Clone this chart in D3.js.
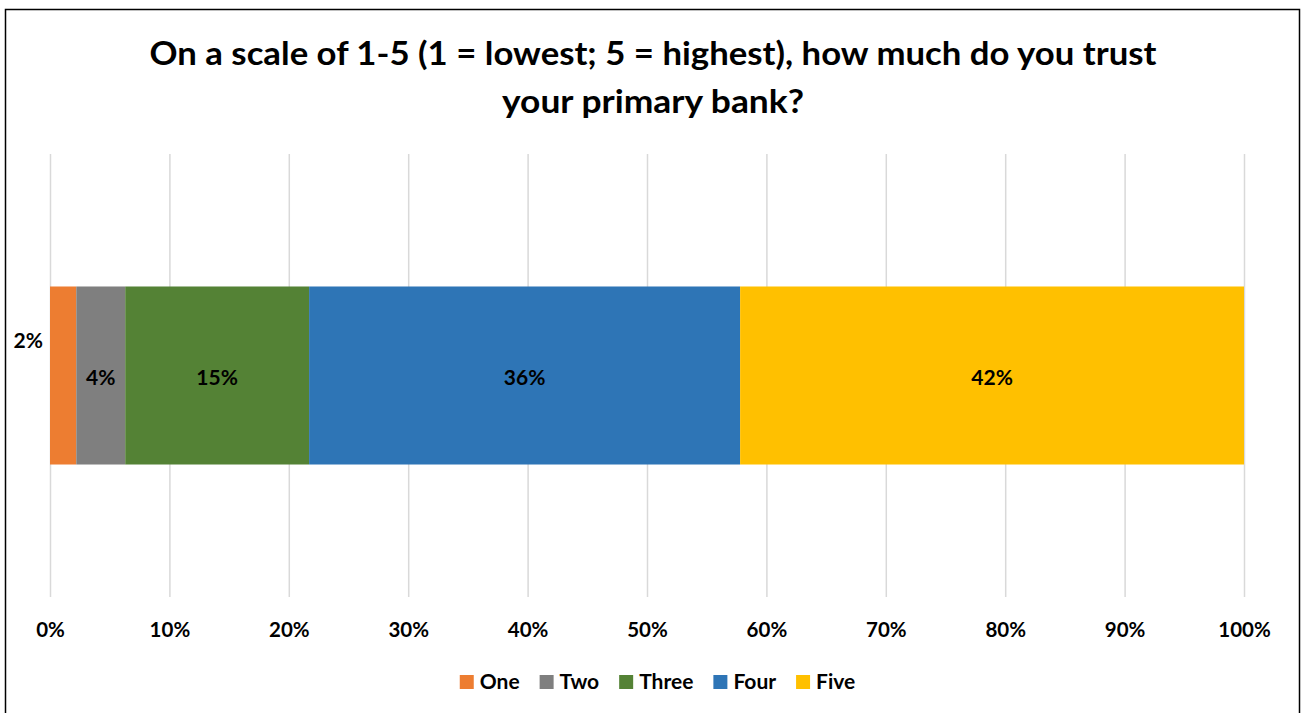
<!DOCTYPE html>
<html>
<head>
<meta charset="utf-8">
<script src="https://cdn.jsdelivr.net/npm/d3@7"></script>
<style>
  html, body { margin: 0; padding: 0; background: #fff; }
  svg { display: block; }
  text { font-family: Lato, "Open Sans", sans-serif; font-weight: 700; fill: #000; }
</style>
</head>
<body>
<svg id="chart" width="1304" height="713"></svg>
<script>
// ---- data ----
const titleLines = ["On a scale of 1-5 (1 = lowest; 5 = highest), how much do you trust", "your primary bank?"];
const categories = [""];
const seriesNames = ["One", "Two", "Three", "Four", "Five"];
const seriesValues = [2.2, 4.1, 15.4, 36.1, 42.2];
const seriesColors = ["#ED7D31", "#7F7F7F", "#548235", "#2E75B6", "#FFC000"];
const tickValues = [0, 10, 20, 30, 40, 50, 60, 70, 80, 90, 100];

// ---- layout ----
const W = 1304, H = 713;
const plot = { left: 50, right: 1244, top: 154, bottom: 597 };
const titleWidths = [1007, 302];
const svg = d3.select("#chart");

svg.append("rect").attr("width", W).attr("height", H).attr("fill", "#fff");
svg.append("rect")
  .attr("x", 5.5).attr("y", 9.5).attr("width", 1294).attr("height", 730)
  .attr("fill", "none").attr("stroke", "#000").attr("stroke-width", 1.5);

// title
titleLines.forEach((t, i) => {
  svg.append("text").attr("text-anchor", "middle").style("font-size", "32px")
    .attr("x", 653).attr("y", 65 + i * 48)
    .attr("textLength", titleWidths[i]).attr("lengthAdjust", "spacingAndGlyphs")
    .text(t);
});

const x = d3.scaleLinear().domain([0, 100]).range([plot.left, plot.right]);
const y = d3.scaleBand().domain(categories).range([plot.top, plot.bottom]).padding(0.4267);

// gridlines + axis
const axis = d3.axisBottom(x).tickValues(tickValues).tickFormat(d => d + "%")
  .tickSize(-(plot.bottom - plot.top)).tickPadding(0);
const gx = svg.append("g").attr("transform", `translate(0,${plot.bottom})`).call(axis);
gx.select(".domain").remove();
gx.selectAll(".tick line").attr("stroke", "#D9D9D9").attr("stroke-width", 1.5);
gx.selectAll(".tick text")
  .attr("y", 33).attr("dy", "0.35em")
  .style("font-size", "20.5px").style("font-family", "Lato, 'Open Sans', sans-serif").style("font-weight", 700)
  .attr("fill", "#000");

// stacked data
let acc = 0;
const segs = seriesNames.map((name, i) => {
  const s = { name, value: seriesValues[i], x0: acc, x1: acc + seriesValues[i], color: seriesColors[i] };
  acc += seriesValues[i];
  return s;
});

const yc = y(categories[0]);
svg.append("g").selectAll("rect").data(segs).join("rect")
  .attr("x", d => x(d.x0)).attr("width", d => x(d.x1) - x(d.x0))
  .attr("y", yc).attr("height", y.bandwidth())
  .attr("fill", d => d.color);

// labels
const fmt = v => Math.round(v) + "%";
const mid = yc + y.bandwidth() / 2;
svg.append("g").selectAll("text").data(segs).join("text")
  .attr("text-anchor", d => d.name === "One" ? "end" : "middle")
  .attr("x", d => d.name === "One" ? x(d.x0) - 7 : x((d.x0 + d.x1) / 2))
  .attr("y", d => d.name === "One" ? mid - 35 : mid + 2)
  .attr("dy", "0.35em")
  .style("font-size", "21px")
  .text(d => fmt(d.value));

// legend
const lg = svg.append("g");
const items = lg.selectAll("g").data(segs).join("g");
items.append("rect").attr("width", 14).attr("height", 14).attr("y", -7).attr("fill", d => d.color);
items.append("text").attr("x", 20).attr("dy", "0.35em").style("font-size", "21px").text(d => d.name);
let lx = 0;
items.each(function () {
  const g = d3.select(this);
  g.attr("transform", `translate(${lx},0)`);
  lx += 20 + g.select("text").node().getComputedTextLength() + 20;
});
const totalW = lx - 20;
lg.attr("transform", `translate(${657.5 - totalW / 2},682)`);
</script>
</body>
</html>
